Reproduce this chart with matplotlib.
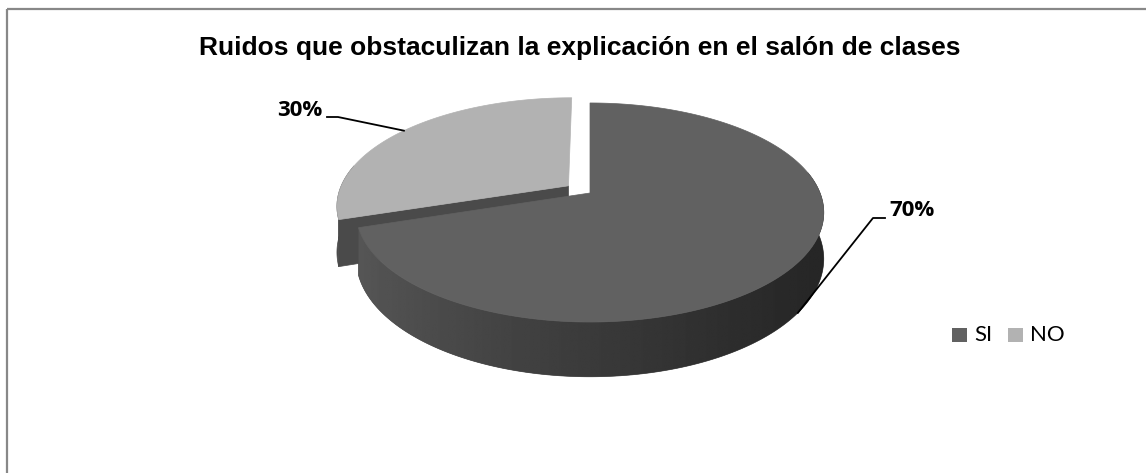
import matplotlib.pyplot as plt
import numpy as np
from matplotlib.patches import Polygon, Rectangle

# data
labels = ['SI', 'NO']
values = [70, 30]
top_colors = ['#616161', '#b2b2b2']
explode = [0.0, 0.117]
title = 'Ruidos que obstaculizan la explicación en el salón de clases'

# 3d pie geometry, pixel units (y down)
cx, cy = 590, 193
A = 230       # horizontal radius
a, c = 71.7, -0.178   # perspective terms
D = 45        # thickness


def proj(u, v, z=0.0):
    d = 1 + c * v
    return cx + A * u / d, (a * v + cy) / d + z * D / d


def rim(th, off, z=0.0):
    return proj(np.sin(th) + off[0], -np.cos(th) + off[1], z)


fig = plt.figure(figsize=(11.46, 4.73), dpi=100)
ax = fig.add_axes([0, 0, 1, 1])
ax.set_xlim(0, 1146)
ax.set_ylim(473, 0)
ax.axis('off')

ax.add_patch(Rectangle((7, 9.5), 1200, 600, fill=False, ec='#888888', lw=1.6))

fracs = np.array(values) / sum(values)
starts = np.concatenate([[0], np.cumsum(fracs)[:-1]]) * 2 * np.pi
ends = np.cumsum(fracs) * 2 * np.pi
mids = (starts + ends) / 2
offs = [(e * np.sin(m), -e * np.cos(m)) for e, m in zip(explode, mids)]

# horizontal gradient for the shaded wall, light on the left, dark on the right
grad_x = np.linspace(cx - A * 1.05, cx + A * 1.05, 300)
grad_u = (grad_x - cx) / (A * 1.05)
grad_v = 0x58 + (0x25 - 0x58) * np.clip((grad_u + 1) / 2, 0, 1) ** 0.8
grad_img = np.tile(grad_v / 255.0, (2, 1))


def draw_slice(i, z0, shaded=True, cut_start=False):
    s, e, off = starts[i], ends[i], offs[i]
    th = np.linspace(s, e, 300)
    top_pts = [rim(t, off) for t in th]
    # outer wall, only the front half can be seen
    ws, we = max(s, np.pi / 2 - 0.2), min(e, 3 * np.pi / 2 + 0.2)
    if we > ws:
        tw = np.linspace(ws, we, 300)
        pts = [rim(t, off) for t in tw] + [rim(t, off, 1) for t in tw[::-1]]
        wall = Polygon(pts, closed=True, fc='#4a4a4a', ec='#4a4a4a', lw=0.5, zorder=z0)
        ax.add_patch(wall)
        if shaded:
            im = ax.imshow(grad_img, cmap='gray', vmin=0, vmax=1, aspect='auto',
                           extent=(grad_x[0], grad_x[-1], 400, 100),
                           interpolation='bilinear', zorder=z0 + 0.1)
            im.set_clip_path(wall)
    if cut_start:
        tip0 = proj(off[0], off[1])
        tip1 = proj(off[0], off[1], 1)
        pts = [tip0, rim(s, off), rim(s, off, 1), tip1]
        ax.add_patch(Polygon(pts, closed=True, fc='#4a4a4a', ec='#4a4a4a', lw=0.5,
                             zorder=z0 + 0.2))
    pts = [proj(off[0], off[1])] + top_pts
    ax.add_patch(Polygon(pts, closed=True, fc=top_colors[i], ec=top_colors[i], lw=0.5,
                         zorder=z0 + 0.3))


draw_slice(1, 1, shaded=False, cut_start=True)
draw_slice(0, 2)

ax.set_xlim(0, 1146)
ax.set_ylim(473, 0)

# data labels with leader lines
lab_font = dict(fontsize=16, fontweight='bold', family=['Open Sans', 'DejaVu Sans'])
p_no = rim(mids[1], offs[1])
ax.plot([327, 338, p_no[0]], [117, 117, p_no[1]], color='black', lw=1.3, zorder=4)
ax.text(322, 110, '%d%%' % values[1], ha='right', va='center', **lab_font)

p_si = rim(mids[0], offs[0], 1)
ax.plot([885, 873, p_si[0]], [218, 218, p_si[1]], color='black', lw=1.3, zorder=4)
ax.text(889, 210, '%d%%' % values[0], ha='left', va='center', **lab_font)

ax.text(580, 48, title, ha='center', va='center', fontsize=19,
        fontweight='bold', family='Liberation Sans')

# legend
for x0, tx, lab, col in zip([952, 1008], [974, 1030], labels, top_colors):
    ax.add_patch(Rectangle((x0, 328), 15, 14, fc=col, ec='none'))
    ax.text(tx, 335, lab, ha='left', va='center', fontsize=16, family='Lato')

fig.savefig('out.png', dpi=100)
